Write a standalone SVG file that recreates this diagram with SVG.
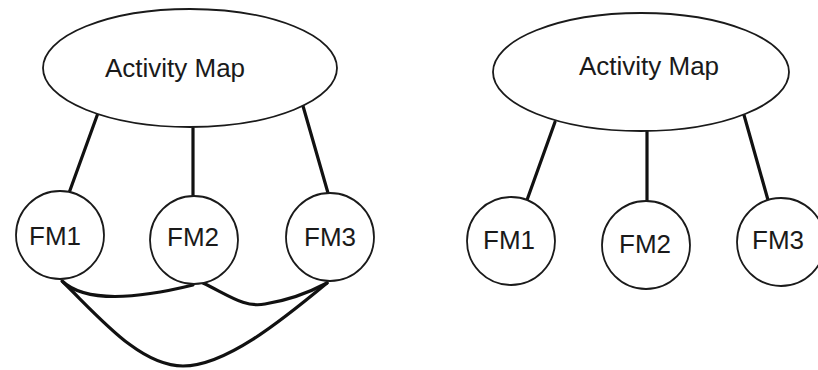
<svg xmlns="http://www.w3.org/2000/svg" width="818" height="370" viewBox="0 0 818 370">
<style>
.shape{fill:#fff;stroke:#1a1a1a;stroke-width:1.8}
.lbl{font-family:"Liberation Sans",Arial,sans-serif;font-size:26px;fill:#1a1a1a;text-anchor:middle}
.con{fill:none;stroke:#111;stroke-width:3.2;stroke-linecap:round}
</style>
<rect width="818" height="370" fill="#fff"/>
<g id="connectors">
<line class="con" x1="98" y1="113" x2="69" y2="193"/>
<line class="con" x1="193" y1="128" x2="193" y2="195"/>
<line class="con" x1="303" y1="106" x2="328" y2="193"/>
<path class="con" d="M62,281 C80,298 120,303 193,285"/>
<path class="con" d="M203,283 C230,296 245,308 265,304 C290,300 310,292 327,283"/>
<path class="con" d="M63,282 C100,318 140,366 183,366 C225,366 280,322 327,283"/>
<line class="con" x1="555" y1="122" x2="527" y2="200"/>
<line class="con" x1="647" y1="131" x2="647" y2="201"/>
<line class="con" x1="744" y1="115" x2="768" y2="200"/>
</g>
<g id="am-left">
<ellipse class="shape" cx="190" cy="68" rx="147" ry="59"/>
<text class="lbl" x="175" y="77">Activity Map</text>
</g>
<g id="fm1-left">
<circle class="shape" cx="60" cy="235" r="44"/>
<text class="lbl" x="55" y="245">FM1</text>
</g>
<g id="fm2-left">
<circle class="shape" cx="194" cy="240" r="44"/>
<text class="lbl" x="193" y="246">FM2</text>
</g>
<g id="fm3-left">
<circle class="shape" cx="330" cy="237" r="44"/>
<text class="lbl" x="330" y="246">FM3</text>
</g>
<g id="am-right">
<ellipse class="shape" cx="641" cy="72" rx="148" ry="59"/>
<text class="lbl" x="649" y="75">Activity Map</text>
</g>
<g id="fm1-right">
<circle class="shape" cx="511" cy="241" r="44"/>
<text class="lbl" x="509" y="249">FM1</text>
</g>
<g id="fm2-right">
<circle class="shape" cx="646" cy="245" r="44"/>
<text class="lbl" x="645" y="253">FM2</text>
</g>
<g id="fm3-right">
<circle class="shape" cx="781" cy="242" r="44"/>
<text class="lbl" x="778" y="249">FM3</text>
</g>
</svg>
